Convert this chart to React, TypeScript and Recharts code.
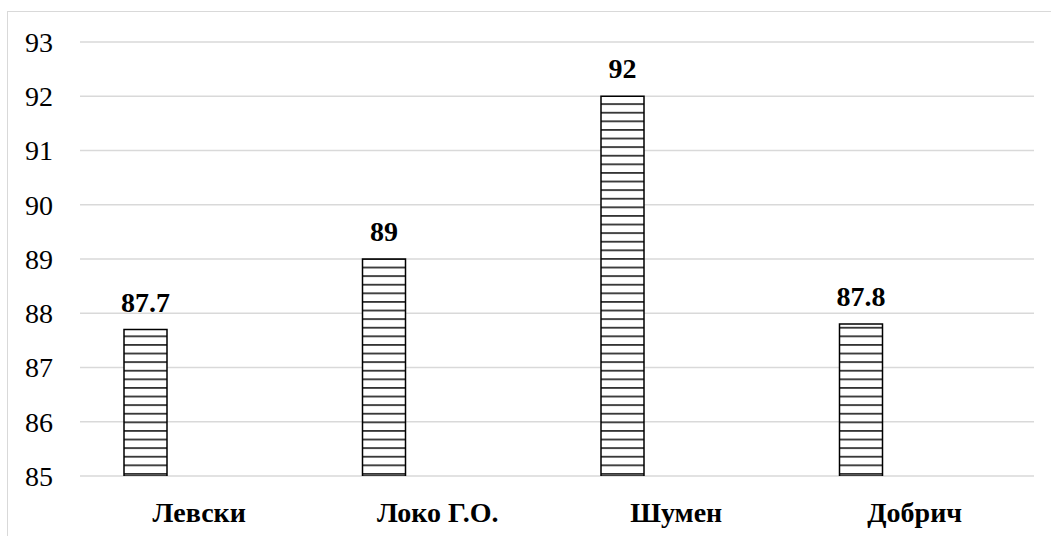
import { BarChart, Bar, XAxis, YAxis, CartesianGrid, LabelList } from 'recharts'

const teams = ['Левски', 'Локо Г.О.', 'Шумен', 'Добрич']
const scores = [87.7, 89, 92, 87.8]
const yTicks = [85, 86, 87, 88, 89, 90, 91, 92, 93]

const FONT = 'Liberation Serif'

export default function App() {
  // second, empty series keeps the bars on the left of each group like the original
  const data = teams.map((name, i) => ({ name, score: scores[i], empty: null }))

  return (
    <div style={{ position: 'absolute', left: 0, top: 0, width: 1051, height: 536, background: '#fff', fontFamily: FONT }}>
      <div
        style={{
          position: 'absolute', left: 7, top: 11, width: 1060, height: 540,
          border: '1px solid #d9d9d9', boxSizing: 'border-box',
        }}
      />
      <BarChart
        width={1051}
        height={536}
        data={data}
        margin={{ top: 42, right: 17, bottom: 30, left: 0 }}
        barGap={0}
        barCategoryGap={0}
        style={{ position: 'absolute', left: 0, top: 0, fontFamily: FONT }}
      >
        <defs>
          <pattern id="hlines" patternUnits="userSpaceOnUse" width="8" height="8.6">
            <rect width="8" height="8.6" fill="#fff" />
            <rect y="0" width="8" height="1.8" fill="#333" />
          </pattern>
        </defs>
        <CartesianGrid vertical={false} stroke="#d9d9d9" strokeWidth={1.5} />
        <XAxis
          dataKey="name"
          axisLine={false}
          tickLine={false}
          tickSize={0}
          tickMargin={26}
          tick={{ fill: '#000', fontSize: 28, fontWeight: 'bold', fontFamily: FONT }}
        />
        <YAxis
          domain={[85, 93]}
          ticks={yTicks}
          allowDataOverflow
          axisLine={false}
          tickLine={false}
          tickSize={0}
          tickMargin={27}
          width={80}
          tick={{ fill: '#000', fontSize: 28, fontFamily: FONT }}
        />
        <Bar dataKey="score" barSize={43} fill="url(#hlines)" stroke="#000" strokeWidth={1.5} isAnimationActive={false}>
          <LabelList
            dataKey="score"
            position="top"
            offset={18}
            style={{ fill: '#000', fontSize: 28, fontWeight: 'bold', fontFamily: FONT }}
          />
        </Bar>
        <Bar dataKey="empty" barSize={107} fill="none" isAnimationActive={false} />
      </BarChart>
    </div>
  )
}
